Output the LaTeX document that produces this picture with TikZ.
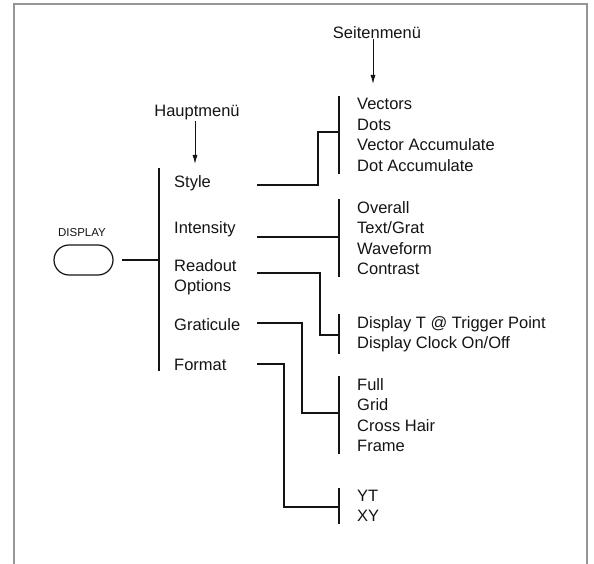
\documentclass[tikz,border=0pt]{standalone}
\usepackage{fontspec}
\setmainfont{Liberation Sans}
\usepackage{xcolor}
\definecolor{ink}{RGB}{20,20,20}
\definecolor{rim}{RGB}{150,150,150}
\usetikzlibrary{arrows.meta,positioning,shapes.misc}
\tikzset{
  menu/.style={font=\fontsize{16.5}{20.5}\selectfont, color=ink,
               inner sep=0pt, anchor=west, align=left},
  tag/.style={font=\fontsize{11.5}{13}\selectfont, color=ink, inner sep=0pt},
  key/.style={rounded rectangle, draw=ink, line width=1.2pt,
              minimum width=59pt, minimum height=30pt, inner sep=0pt},
  bar/.style={draw=ink, line width=2pt},
  link/.style={draw=ink, line width=1.8pt},
  pointer/.style={draw=ink, line width=1pt, -{Latex[length=9pt,width=5pt]}},
}

\begin{document}
\begin{tikzpicture}[x=1pt,y=-1pt]
  \useasboundingbox (0,0) rectangle (594,564);
  %% frame, open at the bottom
  \draw[rim, line width=1.2pt] (14,564) -- (14,4) -- (587,4) -- (587,564);

  %% DISPLAY key
  \node[tag] (displaylbl) at (82,233) {DISPLAY};
  \node[key] (display) at (83.5,260) {};

  %% main menu
  \node[menu, anchor=center] (haupt) at (197,113) {Hauptmenü};
  \coordinate (haupt-tip) at (195,164);
  \draw[pointer] (haupt.south -| haupt-tip) -- (haupt-tip);
  \draw[bar] (159,168) -- (159,371);
  \coordinate (main-in) at (159,260);
  \draw[link] (display.east) ++(8pt,0) -- (main-in);
  \node[menu] (style)     at (174,183) {Style};
  \node[menu] (intensity) at (174,229) {Intensity};
  \node[menu] (readout)   at (174,277) {Readout\\Options};
  \node[menu] (graticule) at (174,325) {Graticule};
  \node[menu] (format)    at (174,365) {Format};

  %% side menus
  \node[menu, anchor=center] (seiten) at (377,33) {Seitenmenü};
  \coordinate (seiten-tip) at (373,84);
  \draw[pointer] (seiten.south -| seiten-tip) -- (seiten-tip);
  \node[menu] (vectors)  at (357,135) {Vectors\\Dots\\Vector Accumulate\\Dot Accumulate};
  \node[menu] (overall)  at (357,238) {Overall\\Text/Grat\\Waveform\\Contrast};
  \node[menu] (clock)    at (357,334) {Display T @ Trigger Point\\Display Clock On/Off};
  \node[menu] (full)     at (357,415) {Full\\Grid\\Cross Hair\\Frame};
  \node[menu] (yt)       at (357,506) {YT\\XY};
  \foreach \m in {vectors,overall,clock,full,yt}
    \draw[bar] ([xshift=-18pt,yshift=2pt]\m.north west) -- ([xshift=-18pt,yshift=-2pt]\m.south west);

  %% connectors
  \coordinate (style-out)     at (257,185);
  \coordinate (intensity-out) at (257,237);
  \coordinate (readout-out)   at (257,273);
  \coordinate (graticule-out) at (257,323);
  \coordinate (format-out)    at (257,364);
  \coordinate (vectors-in)  at (339,132);
  \coordinate (overall-in)  at (339,237);
  \coordinate (clock-in)    at (339,335);
  \coordinate (full-in)     at (339,413);
  \coordinate (yt-in)       at (339,507);
  \draw[link] (style-out) -- ++(61,0) |- (vectors-in);
  \draw[link] (intensity-out) -- (overall-in);
  \draw[link] (readout-out) -- ++(63,0) |- (clock-in);
  \draw[link] (graticule-out) -- ++(45,0) |- (full-in);
  \draw[link] (format-out) -- ++(27,0) |- (yt-in);
\end{tikzpicture}
\end{document}
